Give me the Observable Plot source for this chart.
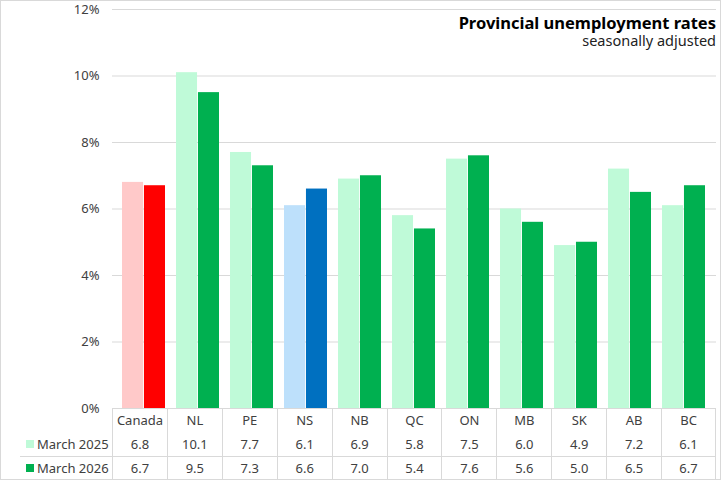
<!DOCTYPE html>
<html>
<head>
<meta charset="utf-8">
<script src="https://cdn.jsdelivr.net/npm/d3@7"></script>
<script src="https://cdn.jsdelivr.net/npm/@observablehq/plot@0.6"></script>
<style>
  html, body { margin: 0; padding: 0; background: #fff; }
  #wrap { position: relative; width: 721px; height: 480px; overflow: hidden; font-family: "Noto Sans", sans-serif; color: #404040; }
  #frame { position: absolute; left: 0; top: 0; width: 721px; height: 480px; box-sizing: border-box; border: 1px solid #d9d9d9; pointer-events: none; }
  #chart { position: absolute; left: 0; top: 0; }
  #title { position: absolute; right: 5px; top: 13.5px; text-align: right; color: #000; font-weight: 700; font-size: 16.5px; line-height: 18px; white-space: nowrap; }
  #subtitle { position: absolute; right: 5px; top: 33px; text-align: right; color: #222; font-size: 14.5px; line-height: 14px; white-space: nowrap; }
  #table { position: absolute; left: 20px; top: 408px; width: 696px; display: grid;
           grid-template-columns: 92px repeat(11, 1fr); grid-template-rows: 24px 24px 23px; font-size: 13px; }
  #table div { box-sizing: border-box; display: flex; align-items: center; justify-content: center; white-space: nowrap; }
  #table .v { border-left: 1px solid #d9d9d9; }
  #table .last { border-right: 1px solid #d9d9d9; }
  #table .r3 { border-top: 1px solid #d9d9d9; }
  #table .lg { justify-content: flex-start; padding-left: 6px; }
  #table .key { width: 8px; height: 8px; display: inline-block; margin-right: 3px; }
</style>
</head>
<body>
<div id="wrap">
  <div id="chart"></div>
  <div id="title">Provincial unemployment rates</div>
  <div id="subtitle">seasonally adjusted</div>
  <div id="table"></div>
  <div id="frame"></div>
</div>
<script>
// ---- data ----
const categories = ["Canada", "NL", "PE", "NS", "NB", "QC", "ON", "MB", "SK", "AB", "BC"];
const rate2025 = [6.8, 10.1, 7.7, 6.1, 6.9, 5.8, 7.5, 6.0, 4.9, 7.2, 6.1];
const rate2026 = [6.7, 9.5, 7.3, 6.6, 7.0, 5.4, 7.6, 5.6, 5.0, 6.5, 6.7];
const seriesLabels = ["March 2025", "March 2026"];
const yTicks = [0, 2, 4, 6, 8, 10, 12];

// ---- styles ----
const palette = {
  Canada: ["#FFC9C9", "#FF0000"],
  NS: ["#BDE0FB", "#0070C0"],
  other: ["#BFFAD8", "#00B050"]
};
const colorFor = (cat, s) => (palette[cat] || palette.other)[s];

const rows = categories.flatMap((c, i) => [
  {cat: c, series: seriesLabels[0], value: rate2025[i], color: colorFor(c, 0)},
  {cat: c, series: seriesLabels[1], value: rate2026[i], color: colorFor(c, 1)}
]);

const bandPaddingInner = 0.2, bandPaddingOuter = 0.1;
const plotLeft = 112, plotRight = 716, W = 721;
const step = (plotRight - plotLeft) / (categories.length - bandPaddingInner + 2 * bandPaddingOuter);
const half = step * (1 - bandPaddingInner) / 2;

const chart = Plot.plot({
  width: W,
  height: 409,
  marginLeft: plotLeft,
  marginRight: W - plotRight,
  marginTop: 9,
  marginBottom: 1,
  style: {fontFamily: "'Noto Sans', sans-serif", fontSize: "13px", color: "#404040", background: "transparent", overflow: "visible"},
  x: {domain: categories, paddingInner: bandPaddingInner, paddingOuter: bandPaddingOuter, axis: null},
  y: {domain: [0, 12]},
  marks: [
    Plot.gridY(yTicks, {stroke: "#d9d9d9", strokeOpacity: 1}),
    Plot.axisY(yTicks, {tickFormat: d => d + "%", tickSize: 0, tickPadding: 13, label: null, fill: "#404040"}),
    Plot.barY(rows.filter(d => d.series === seriesLabels[0]), {x: "cat", y: "value", fill: "color", insetRight: half}),
    Plot.barY(rows.filter(d => d.series === seriesLabels[1]), {x: "cat", y: "value", fill: "color", insetLeft: half})
  ]
});
document.getElementById("chart").appendChild(chart);

// ---- data table below the chart ----
const table = document.getElementById("table");
function cell(html, cls) { const d = document.createElement("div"); d.className = cls; d.innerHTML = html; table.appendChild(d); }
cell("", "");
categories.forEach((c, i) => cell(c, "v" + (i === categories.length - 1 ? " last" : "")));
[rate2025, rate2026].forEach((vals, s) => {
  const r = s === 1 ? " r3" : "";
  cell(`<span class="key" style="background:${palette.other[s]}"></span>${seriesLabels[s]}`, "lg" + r);
  vals.forEach((v, i) => cell(v.toFixed(1), "v" + r + (i === vals.length - 1 ? " last" : "")));
});
</script>
</body>
</html>
